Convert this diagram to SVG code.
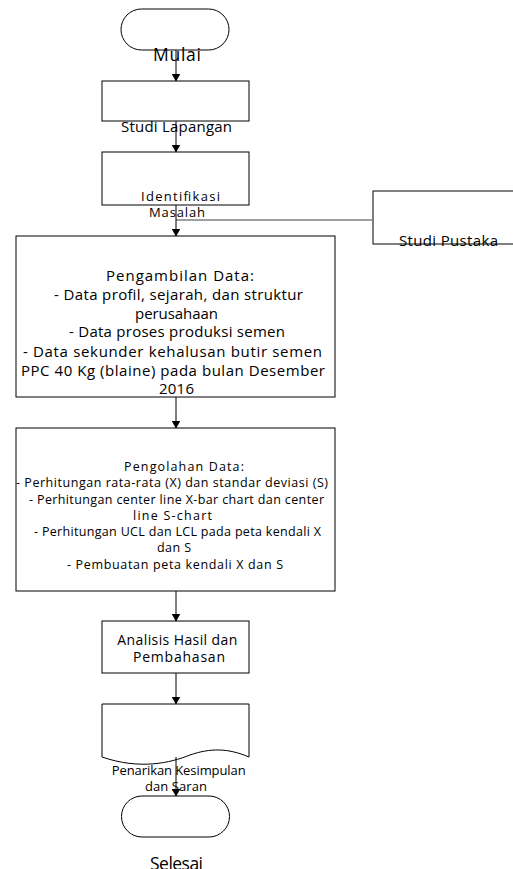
<svg xmlns="http://www.w3.org/2000/svg" width="513" height="869" viewBox="0 0 513 869">
<defs>
<style>
.box{fill:#fff;stroke:#000;stroke-width:1}
.t{font-family:"Open Sans","Liberation Sans",sans-serif;fill:#000;text-anchor:middle}
.ln{stroke:#000;stroke-width:1;fill:none}
.gl{stroke:#7f7f7f;stroke-width:1.5;fill:none}
.f17{font-size:17.5px}
.f15{font-size:15px}
.f14{font-size:14px}
.f13{font-size:13px}
.f12{font-size:12.5px}
</style>
<marker id="ah" markerWidth="8" markerHeight="9" refX="7.5" refY="4.5" orient="auto" markerUnits="userSpaceOnUse">
<path d="M0,0 L8,4.5 L0,9 Z" fill="#000"/>
</marker>
</defs>
<rect width="513" height="869" fill="#fff"/>
<g id="mulai">
<rect class="box" x="121" y="9" width="108" height="41" rx="20.5"/>
<text class="t f17" x="177" y="61" textLength="48">Mulai</text>
</g>
<g id="studi-lapangan">
<rect class="box" x="102" y="81" width="147" height="40"/>
<text class="t f15" x="176.5" y="132" textLength="111">Studi Lapangan</text>
</g>
<g id="identifikasi">
<rect class="box" x="102" y="152" width="147" height="53"/>
<text class="t f13" x="180.5" y="201" textLength="79">Identifikasi</text>
<text class="t f13" x="177" y="217" textLength="56">Masalah</text>
</g>
<g id="studi-pustaka">
<rect class="box" x="373" y="191" width="150" height="53"/>
<text class="t f15" x="448.5" y="246" textLength="99">Studi Pustaka</text>
</g>
<g id="pengambilan">
<rect class="box" x="16" y="236" width="319" height="161"/>
<text class="t f15" x="180" y="281" textLength="148">Pengambilan  Data:</text>
<text class="t f15" x="178.5" y="299.8" textLength="249">- Data profil, sejarah, dan struktur</text>
<text class="t f15" x="176.5" y="318.6" textLength="83">perusahaan</text>
<text class="t f15" x="177" y="337.4" textLength="216">- Data proses produksi semen</text>
<text class="t f15" x="172.5" y="357" textLength="299">- Data sekunder kehalusan butir semen</text>
<text class="t f15" x="173" y="376" textLength="304">PPC 40 Kg (blaine) pada bulan Desember</text>
<text class="t f15" x="176.5" y="394" textLength="35">2016</text>
</g>
<g id="pengolahan">
<rect class="box" x="16" y="428" width="319" height="163"/>
<text class="t f12" x="184" y="471" textLength="120">Pengolahan Data:</text>
<text class="t f12" x="172" y="487.3" textLength="312">- Perhitungan rata-rata (X) dan standar deviasi (S)</text>
<text class="t f12" x="176.5" y="503.5" textLength="295">- Perhitungan center line X-bar chart dan center</text>
<text class="t f12" x="172.5" y="519.8" textLength="79">line S-chart</text>
<text class="t f12" x="177.5" y="536" textLength="287">- Perhitungan UCL dan LCL pada peta kendali X</text>
<text class="t f12" x="174" y="551.8" textLength="34">dan S</text>
<text class="t f12" x="175" y="568.5" textLength="216">- Pembuatan peta kendali X dan S</text>
</g>
<g id="analisis">
<rect class="box" x="102" y="621" width="147" height="52"/>
<text class="t f14" x="177.3" y="645" textLength="120">Analisis Hasil dan</text>
<text class="t f14" x="179" y="661.7" textLength="92">Pembahasan</text>
</g>
<g id="penarikan">
<path class="box" d="M102,704 H249 V757 C228,748 210,748 190,755 C170,763 140,770 102,757 Z"/>
<text class="t f13" x="178.7" y="775" textLength="134">Penarikan Kesimpulan</text>
<text class="t f13" x="176" y="791" textLength="62">dan Saran</text>
</g>
<g id="selesai">
<rect class="box" x="121.5" y="796" width="108" height="41" rx="20.5"/>
<text class="t f17" x="176.5" y="870" textLength="53">Selesai</text>
</g>
<g id="connectors">
<line class="ln" x1="176" y1="50" x2="176" y2="81" marker-end="url(#ah)"/>
<line class="ln" x1="176" y1="121" x2="176" y2="152" marker-end="url(#ah)"/>
<line class="gl" x1="176" y1="220" x2="373" y2="220"/>
<line class="ln" x1="176" y1="205" x2="176" y2="236" marker-end="url(#ah)"/>
<line class="ln" x1="176" y1="397" x2="176" y2="428" marker-end="url(#ah)"/>
<line class="ln" x1="176" y1="591" x2="176" y2="621" marker-end="url(#ah)"/>
<line class="ln" x1="176" y1="673" x2="176" y2="704" marker-end="url(#ah)"/>
<line class="ln" x1="176" y1="757" x2="176" y2="796" marker-end="url(#ah)"/>
</g>
</svg>
